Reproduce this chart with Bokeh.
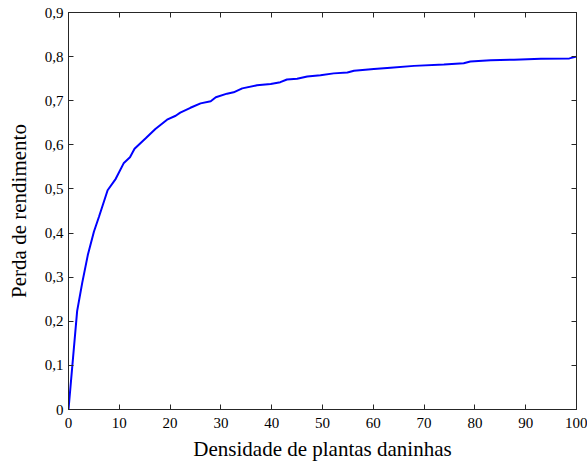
from bokeh.plotting import figure
from bokeh.models import LinearAxis, Range1d, FixedTicker
from bokeh.embed import file_html
from bokeh.resources import INLINE

# Data
density = [0, 1.7, 2.7, 3.8, 5.0, 6.0, 7.7, 9.3, 10.9, 12.1, 13.0, 15.2, 17.1, 19.4,
           21.1, 22.0, 24.0, 26.0, 28.0, 29.0, 31.2, 32.5, 34.2, 37.1, 39.8, 41.7,
           43.0, 45.0, 47.0, 49.6, 52.2, 54.9, 56.2, 60.1, 63.4, 68.0, 73.9, 77.8,
           79.1, 83.1, 87.7, 93.0, 98.6, 100.0]
loss = [0, 0.223, 0.287, 0.350, 0.403, 0.437, 0.497, 0.523, 0.559, 0.572, 0.591,
        0.615, 0.636, 0.657, 0.666, 0.673, 0.684, 0.694, 0.699, 0.708, 0.716,
        0.719, 0.728, 0.735, 0.738, 0.742, 0.748, 0.750, 0.755, 0.758, 0.762,
        0.764, 0.768, 0.772, 0.775, 0.779, 0.782, 0.785, 0.789, 0.792, 0.793,
        0.795, 0.796, 0.800]

x_ticks = [0, 10, 20, 30, 40, 50, 60, 70, 80, 90, 100]
y_ticks = [0, 0.1, 0.2, 0.3, 0.4, 0.5, 0.6, 0.7, 0.8, 0.9]
y_tick_labels = ["0", "0,1", "0,2", "0,3", "0,4", "0,5", "0,6", "0,7", "0,8", "0,9"]

FONT = "Liberation Serif"
AX = "#262626"

p = figure(width=587, height=463, output_backend="svg", toolbar_location=None,
           x_range=Range1d(0, 100), y_range=Range1d(0, 0.9),
           x_axis_label="Densidade de plantas daninhas",
           y_axis_label="Perda de rendimento",
           min_border_left=68, min_border_right=11, min_border_top=12, min_border_bottom=51)
p.grid.visible = False
p.outline_line_color = AX
p.outline_line_width = 1
p.background_fill_color = "white"
p.border_fill_color = "white"

p.line(density, loss, line_color="#0000FF", line_width=2)

for ax in p.xaxis:
    ax.ticker = FixedTicker(ticks=x_ticks)
    ax.major_label_standoff = 8
    ax.axis_label_standoff = 6
for ax in p.yaxis:
    ax.ticker = FixedTicker(ticks=y_ticks)
    ax.major_label_overrides = {t: l for t, l in zip(y_ticks, y_tick_labels)}
    ax.major_label_standoff = 5
    ax.axis_label_standoff = 11

for ax in list(p.xaxis) + list(p.yaxis):
    ax.major_tick_in = 5
    ax.major_tick_out = 0
    ax.minor_tick_in = 0
    ax.minor_tick_out = 0
    ax.axis_line_color = AX
    ax.major_tick_line_color = AX
    ax.major_label_text_font = FONT
    ax.major_label_text_font_size = "15px"
    ax.major_label_text_color = "black"
    ax.axis_label_text_font = FONT
    ax.axis_label_text_font_size = "21px"
    ax.axis_label_text_font_style = "normal"
    ax.axis_label_text_color = "black"

for loc, ticks in (("above", x_ticks), ("right", y_ticks)):
    extra = LinearAxis(ticker=FixedTicker(ticks=ticks), major_tick_in=5, major_tick_out=0,
                       minor_tick_in=0, minor_tick_out=0, major_label_text_font_size="0px",
                       major_label_text_color=None, axis_line_color=AX,
                       major_tick_line_color=AX, major_label_standoff=0)
    p.add_layout(extra, loc)

open("out.html", "w").write(file_html(p, INLINE))
